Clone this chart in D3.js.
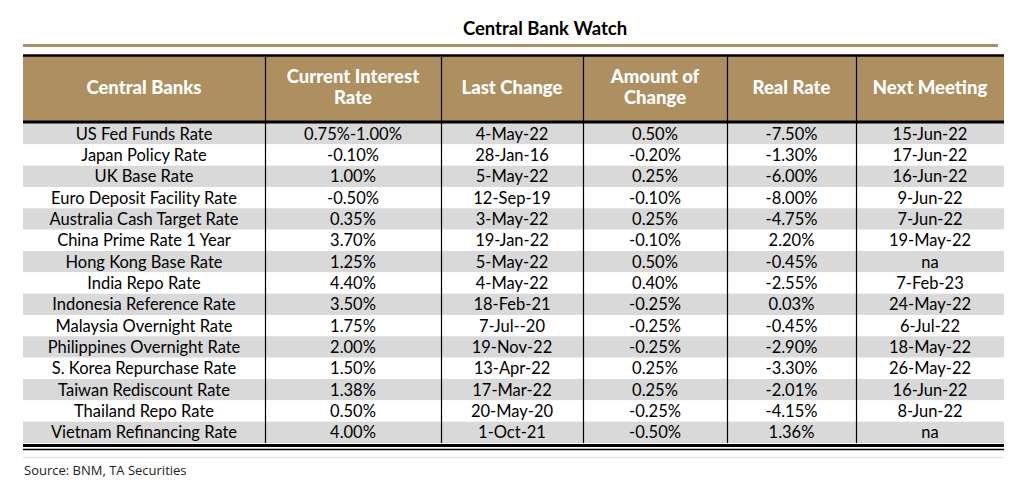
<!DOCTYPE html>
<html>
<head>
<meta charset="utf-8">
<script src="https://cdn.jsdelivr.net/npm/d3@7"></script>
<style>
  body { margin: 0; background: #fff; }
</style>
</head>
<body>
<div id="table"></div>
<script>
let title = "Central Bank Watch";
let source = "Source: BNM, TA Securities";

let headers = [
  ["Central Banks"],
  ["Current Interest", "Rate"],
  ["Last Change"],
  ["Amount of", "Change"],
  ["Real Rate"],
  ["Next Meeting"]
];

let banks = [
  "US Fed Funds Rate", "Japan Policy Rate", "UK Base Rate",
  "Euro Deposit Facility Rate", "Australia Cash Target Rate",
  "China Prime Rate 1 Year", "Hong Kong Base Rate", "India Repo Rate",
  "Indonesia Reference Rate", "Malaysia Overnight Rate",
  "Philippines Overnight Rate", "S. Korea Repurchase Rate",
  "Taiwan Rediscount Rate", "Thailand Repo Rate", "Vietnam Refinancing Rate"
];

let currentRate = [
  "0.75%-1.00%", "-0.10%", "1.00%", "-0.50%", "0.35%", "3.70%", "1.25%",
  "4.40%", "3.50%", "1.75%", "2.00%", "1.50%", "1.38%", "0.50%", "4.00%"
];

let lastChange = [
  "4-May-22", "28-Jan-16", "5-May-22", "12-Sep-19", "3-May-22", "19-Jan-22",
  "5-May-22", "4-May-22", "18-Feb-21", "7-Jul--20", "19-Nov-22", "13-Apr-22",
  "17-Mar-22", "20-May-20", "1-Oct-21"
];

let amountChange = [
  "0.50%", "-0.20%", "0.25%", "-0.10%", "0.25%", "-0.10%", "0.50%", "0.40%",
  "-0.25%", "-0.25%", "-0.25%", "0.25%", "0.25%", "-0.25%", "-0.50%"
];

let realRate = [
  "-7.50%", "-1.30%", "-6.00%", "-8.00%", "-4.75%", "2.20%", "-0.45%",
  "-2.55%", "0.03%", "-0.45%", "-2.90%", "-3.30%", "-2.01%", "-4.15%", "1.36%"
];

let nextMeeting = [
  "15-Jun-22", "17-Jun-22", "16-Jun-22", "9-Jun-22", "7-Jun-22", "19-May-22",
  "na", "7-Feb-23", "24-May-22", "6-Jul-22", "18-May-22", "26-May-22",
  "16-Jun-22", "8-Jun-22", "na"
];

let columns = [banks, currentRate, lastChange, amountChange, realRate, nextMeeting];

let width = 1023, height = 496;
let gold = "#ae8f5f";
let stripe = "#d9d9d9";
let colEdges = [23, 265, 441, 583, 727, 856, 1004];
let headerTop = 56, headerBottom = 122;

let svg = d3.select("#table")
  .append("svg")
    .attr("width", width)
    .attr("height", height)
    .style("font-family", "Lato, 'Open Sans', sans-serif");

let col = d3.scaleOrdinal()
  .domain(d3.range(columns.length))
  .range(colEdges.slice(0, -1));
let colWidth = i => colEdges[i + 1] - colEdges[i];

let y = d3.scaleBand()
  .domain(banks)
  .range([headerBottom + 1, 443]);

// title + gold rule
svg.append("text")
    .attr("x", 545)
    .attr("y", 35)
    .attr("text-anchor", "middle")
    .style("font-weight", "bold")
    .style("font-size", "18.5px")
    .attr("fill", "#000")
    .text(title);

svg.append("line")
    .attr("x1", 23).attr("x2", 998)
    .attr("y1", 45.5).attr("y2", 45.5)
    .attr("stroke", gold)
    .attr("stroke-width", 3);

// header
svg.append("rect")
    .attr("x", colEdges[0])
    .attr("y", headerTop)
    .attr("width", colEdges[6] - colEdges[0])
    .attr("height", headerBottom - headerTop)
    .attr("fill", gold);

let head = svg.selectAll(".head")
  .data(headers)
  .enter().append("text")
    .attr("class", "head")
    .attr("text-anchor", "middle")
    .attr("fill", "#fff")
    .style("font-weight", "900")
    .style("font-size", "18.5px")
    .attr("x", (d, i) => col(i) + colWidth(i) / 2)
    .attr("y", d => d.length > 1 ? 83 : 94);

head.selectAll("tspan")
  .data(d => d)
  .enter().append("tspan")
    .attr("x", function() { return d3.select(this.parentNode).attr("x"); })
    .attr("dy", (d, i) => i ? 21 : 0)
    .text(d => d);

// body stripes
svg.selectAll(".stripe")
  .data(banks)
  .enter().append("rect")
    .attr("class", "stripe")
    .attr("x", colEdges[0])
    .attr("y", d => y(d))
    .attr("width", colEdges[6] - colEdges[0])
    .attr("height", y.bandwidth())
    .attr("fill", (d, i) => i % 2 ? "#fff" : stripe);

// cells
columns.forEach(function(values, c) {
  svg.append("g")
    .selectAll("text")
    .data(values)
    .enter().append("text")
      .attr("x", col(c) + colWidth(c) / 2)
      .attr("y", (d, i) => y(banks[i]) + y.bandwidth() / 2)
      .attr("dy", "0.36em")
      .attr("text-anchor", "middle")
      .style("font-size", "16.5px")
      .attr("fill", "#000")
      .text(d => d);
});

// column dividers
svg.selectAll(".divider")
  .data(colEdges.slice(1, -1))
  .enter().append("line")
    .attr("class", "divider")
    .attr("x1", d => d + 0.5).attr("x2", d => d + 0.5)
    .attr("y1", headerTop).attr("y2", 443)
    .attr("stroke", "#000")
    .attr("stroke-width", 1.2);

// horizontal rules
let rules = [
  {y: 55.5, w: 2.5},
  {y: 122, w: 3},
  {y: 445.5, w: 3},
  {y: 449.5, w: 1.3}
];
svg.selectAll(".rule")
  .data(rules)
  .enter().append("line")
    .attr("class", "rule")
    .attr("x1", colEdges[0]).attr("x2", colEdges[6])
    .attr("y1", d => d.y).attr("y2", d => d.y)
    .attr("stroke", "#000")
    .attr("stroke-width", d => d.w);

svg.append("line")
    .attr("x1", colEdges[0]).attr("x2", colEdges[6])
    .attr("y1", 457.5).attr("y2", 457.5)
    .attr("stroke", "#e6e6e6")
    .attr("stroke-width", 1.5);

svg.append("text")
    .attr("x", 24)
    .attr("y", 475)
    .style("font-family", "'Open Sans', sans-serif")
    .style("font-size", "13px")
    .attr("fill", "#222")
    .text(source);
</script>
</body>
</html>
